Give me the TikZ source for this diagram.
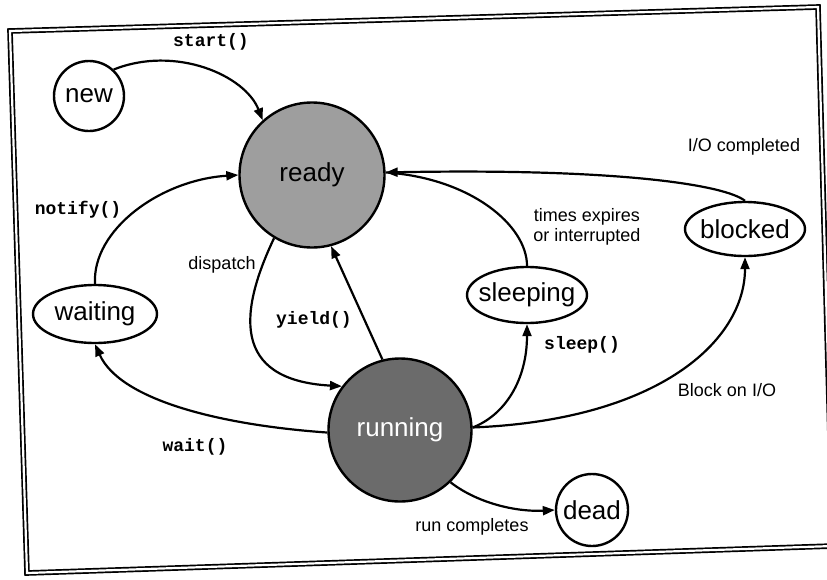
\documentclass[tikz,border=0pt]{standalone}
\usepackage{fontspec}
\setmainfont{Liberation Sans}
\setmonofont{Liberation Mono}
\usepackage{tikz}
\usetikzlibrary{shapes.geometric, arrows.meta}
\definecolor{readyGray}{gray}{0.62}
\definecolor{runningGray}{gray}{0.42}

\begin{document}
\begin{tikzpicture}[x=1pt, y=-1pt,
    statecirc/.style={circle, draw, line width=2.4pt, inner sep=0pt, font=\fontsize{26}{29}\selectfont},
    stateell/.style={ellipse, draw, line width=2.4pt, inner sep=0pt},
    statetxt/.style={font=\fontsize{26}{29}\selectfont},
    trans/.style={line width=2.2pt, -{Triangle[length=12pt, width=9pt]}},
    calllbl/.style={font=\fontsize{18}{20}\selectfont\ttfamily\bfseries},
    eventlbl/.style={font=\fontsize{18}{20}\selectfont, align=center}]
    \useasboundingbox (0,0) rectangle (827,579);
    \clip (0,0) rectangle (827,579);
    % Frame (scanned page, slightly tilted)
    \draw[line width=1.7pt, double, double distance=2.2pt] (10,31) -- (818,7) -- (833,546) -- (27,573) -- cycle;
    % States
    \node[statecirc, minimum size=70pt] (new) at (89,96) {new};
    \node[statecirc, minimum size=145pt, fill=readyGray] (ready) at (312,175) {ready};
    \node[statecirc, minimum size=143pt, fill=runningGray, text=white] (running) at (400,430) {running};
    \node[statecirc, minimum size=72pt] (dead) at (592,510) {dead};
    \node[stateell, minimum width=124pt, minimum height=58pt, label={[statetxt]center:waiting}] (waiting) at (95,314) {};
    \node[stateell, minimum width=120pt, minimum height=56pt, label={[statetxt]center:sleeping}] (sleeping) at (527,295) {};
    \node[stateell, minimum width=120pt, minimum height=54pt, label={[statetxt]center:blocked}] (blocked) at (745,229) {};
    % start()
    \draw[trans] (new.47) .. controls (175,45) and (245,75) .. (ready.132);
    \node[calllbl] (startlbl) at (211,42) {start()};
    % notify()
    \draw[trans] (waiting.north) .. controls (92,230) and (160,180) .. (ready.180);
    \node[calllbl] (notifylbl) at (78,210) {notify()};
    % dispatch
    \draw[trans] (ready.239) .. controls (240,310) and (230,380) .. (running.143);
    \node[eventlbl] (dispatchlbl) at (222,265) {dispatch};
    % yield()
    \draw[trans] (running.104) -- (ready.285);
    \node[calllbl] (yieldlbl) at (314,320) {yield()};
    % Sleeping and blocked back to ready
    \draw[line width=2.2pt] (sleeping.north) .. controls (527,225) and (470,178) .. (ready.2);
    \node[eventlbl] (wakelbl) at (587,227) {times expires\\or interrupted};
    \draw[trans] (blocked.north) .. controls (725,185) and (620,168) .. (ready.2);
    \node[eventlbl] (iodonelbl) at (744,147) {I/O completed};
    % wait()
    \draw[trans] (running.182) .. controls (220,425) and (120,400) .. (waiting.south);
    \node[calllbl] (waitlbl) at (195,447) {wait()};
    % sleep()
    \draw[trans] (running.2) .. controls (505,415) and (527,380) .. (sleeping.south);
    \node[calllbl] (sleeplbl) at (582,345) {sleep()};
    % Block on I/O
    \draw[trans] (running.2) .. controls (660,420) and (745,340) .. (blocked.south);
    \node[eventlbl] (blocklbl) at (727,390) {Block on I/O};
    % run completes
    \draw[trans] (running.314) .. controls (480,505) and (520,512) .. (dead.180);
    \node[eventlbl] (donelbl) at (472,527) {run completes};
\end{tikzpicture}
\end{document}
